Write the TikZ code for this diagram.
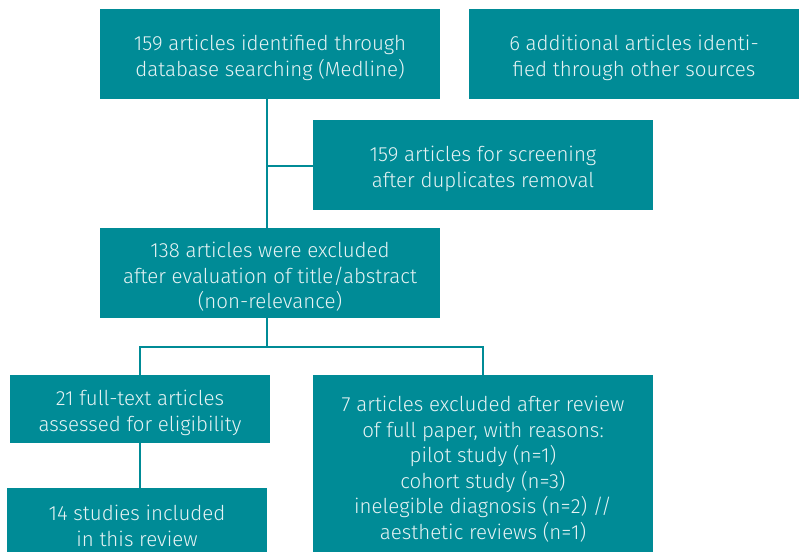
\documentclass[tikz,border=0pt]{standalone}
\usepackage{fontspec}
\setmainfont{Fira Sans Light}
\definecolor{teal1}{HTML}{008B96}
\definecolor{txt}{HTML}{E6F3F4}
\begin{document}
\begin{tikzpicture}[x=1bp,y=-1bp,
  box/.style={fill=teal1, draw=none, inner sep=0pt},
  lbl/.style={inner sep=0pt, text=txt, align=center,
    font=\fontsize{20.5bp}{25.5bp}\selectfont},
  conn/.style={draw=teal1, line width=2.6bp}]
\clip (0,0) rectangle (799,552);
\fill[white] (0,0) rectangle (799,552);
% boxes
\node[box, minimum width=340bp, minimum height=90bp] (a) at (270,54) {};
\node[lbl] (at) at ([yshift=-4bp]a.center) {159 articles identified through\\database searching (Medline)};
\node[box, minimum width=330bp, minimum height=90bp] (b) at (634,54) {};
\node[lbl] (bt) at ([yshift=-4bp]b.center) {6 additional articles identi-\\fied through other sources};
\node[box, minimum width=340bp, minimum height=90bp] (c) at (483,165) {};
\node[lbl] (ct) at ([yshift=-4bp]c.center) {159 articles for screening\\after duplicates removal};
\node[box, minimum width=340bp, minimum height=90bp] (d) at (270,273) {};
\node[lbl] (dt) at ([yshift=-4bp]d.center) {138 articles were excluded\\after evaluation of title/abstract\\(non-relevance)};
\node[box, minimum width=260bp, minimum height=68bp] (e) at (140,409) {};
\node[lbl] (et) at ([yshift=-4bp]e.center) {21 full-text articles\\assessed for eligibility};
\node[box, minimum width=340bp, minimum height=180bp] (f) at (483,465) {};
\node[lbl] (ft) at (483,469) {7 articles excluded after review\\of full paper, with reasons:\\pilot study (n=1)\\cohort study (n=3)\\inelegible diagnosis (n=2) //\\aesthetic reviews (n=1)};
\node[box, minimum width=260bp, minimum height=72bp] (g) at (137,524) {};
\node[lbl] (gt) at (137,526) {14 studies included\\in this review};
% connectors
\coordinate (j1) at (267,166);
\coordinate (j2) at (267,347);
\draw[conn] (267,99) -- (267,228);
\draw[conn] (j1) -- (c.west |- j1);
\draw[conn] (d.south -| j2) -- (j2);
\draw[conn] (140,347) -- (483,347);
\draw[conn] (140,346) -- (e.north -| 140,0);
\draw[conn] (483,346) -- (f.north);
\draw[conn] (e.south) -- (g.north -| e.south);
\end{tikzpicture}
\end{document}
